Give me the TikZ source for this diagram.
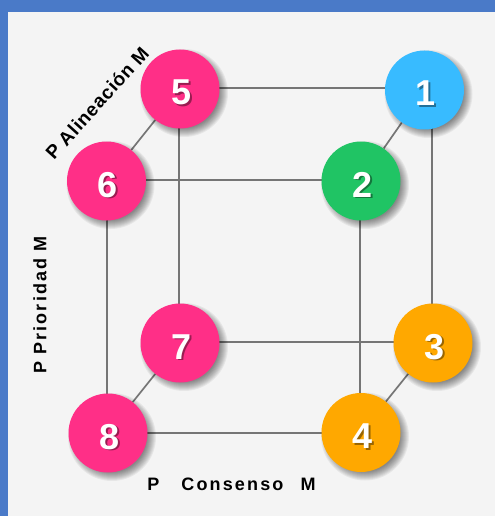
\documentclass[tikz,border=0pt]{standalone}
\usepackage{fontspec}
\setmainfont{Liberation Sans}
\usetikzlibrary{backgrounds}
\definecolor{frameblue}{HTML}{4A7AC8}
\definecolor{panelgrey}{HTML}{F4F4F4}
\definecolor{linegrey}{HTML}{757575}
\definecolor{cpink}{HTML}{FF2F87}
\definecolor{cblue}{HTML}{38BBFF}
\definecolor{cgreen}{HTML}{20C464}
\definecolor{corange}{HTML}{FFA800}
\newfontfamily\spaced[LetterSpace=12]{Liberation Sans}
\newfontfamily\slight[LetterSpace=4]{Liberation Sans}
\newcommand{\digit}[2]{\raisebox{0pt}[32pt][0pt]{\kern3pt\fontsize{36}{36}\selectfont\bfseries\rlap{\kern1.6pt\raisebox{-1.8pt}{\textcolor{#2!60!black}{#1}}}\textcolor{white}{#1}}}
\tikzset{
  x=1pt,y=-1pt,
  ball/.style={circle,minimum size=79pt,inner sep=0pt,fill=#1},
  link/.style={draw=linegrey,line width=1.7pt},
  axislabel/.style={inner sep=0pt,text=black,font=\fontsize{18}{20}\selectfont\bfseries}
}
\begin{document}
\begin{tikzpicture}
\useasboundingbox (0,0) rectangle (495,516);
\node[ball=cblue] (n1) at (424.5,90) {\digit{1}{cblue}};
\node[ball=cgreen] (n2) at (361,181) {\digit{2}{cgreen}};
\node[ball=corange] (n3) at (433,343) {\digit{3}{corange}};
\node[ball=corange] (n4) at (361,432.5) {\digit{4}{corange}};
\node[ball=cpink] (n5) at (180,89) {\digit{5}{cpink}};
\node[ball=cpink] (n6) at (106.5,181) {\digit{6}{cpink}};
\node[ball=cpink] (n7) at (180,343) {\digit{7}{cpink}};
\node[ball=cpink] (n8) at (108,433) {\digit{8}{cpink}};
\node[axislabel,rotate=48,font=\fontsize{19}{20}\selectfont\bfseries] (la) at (97,103) {{\slight P Alineación M}};
\node[axislabel,rotate=90] (lp) at (40,305) {{\spaced P Prioridad M}};
\node[axislabel] (lc) at (231.5,484) {{\spaced P\hspace{22pt}Consenso\hspace{10pt} M}};
\begin{pgfonlayer}{background}
  \fill[frameblue] (0,0) rectangle (495,516);
  \fill[panelgrey] (8,12) rectangle (495,516);
  \draw[link] ([yshift=1pt]n5.center) -- ([yshift=1pt]n5.center -| n1.center);
  \draw[link] ([yshift=1pt]n6.center) -- ([yshift=1pt]n6.center -| n2.center);
  \draw[link] ([yshift=1pt]n7.center) -- ([yshift=1pt]n7.center -| n3.center);
  \draw[link] (n8.center) -- (n8.center -| n4.center);
  \draw[link] (n5) -- (n6);
  \draw[link] (n1) -- (n2);
  \draw[link] (n7) -- (n8);
  \draw[link] (n3) -- (n4);
  \draw[link] ([xshift=-1pt]n5.center) -- ([xshift=-1pt]n5.center |- n7.center);
  \draw[link] ([xshift=.5pt]n6.center) -- ([xshift=.5pt]n6.center |- n8.center);
  \draw[link] ([xshift=-1pt]n3.center |- n1.center) -- ([xshift=-1pt]n3.center);
  \draw[link] ([xshift=-1pt]n2.center) -- ([xshift=-1pt]n2.center |- n4.center);
  \foreach \n in {n1,n2,n3,n4,n5,n6,n7,n8}
    \foreach \r in {35,36,...,44}
      \fill[black,opacity=.055] ([shift={(4,4)}]\n.center) circle[radius=\r];
\end{pgfonlayer}
\end{tikzpicture}
\end{document}
